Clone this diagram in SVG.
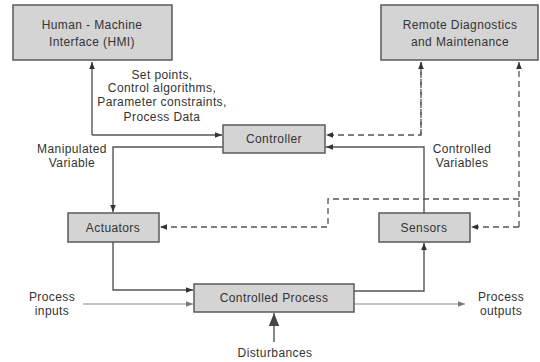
<svg xmlns="http://www.w3.org/2000/svg" width="540" height="362" viewBox="0 0 540 362">
<defs>
<style>
.box{fill:#d4d4d4;stroke:#5a5a5a;stroke-width:1.5}
.t{font-family:"Liberation Sans",Arial,sans-serif;font-size:12px;letter-spacing:0.4px;fill:#333;text-anchor:middle}
.c{fill:none;stroke:#555;stroke-width:1.4}
.d{fill:none;stroke:#555;stroke-width:1.3;stroke-dasharray:6,4}
.l{fill:none;stroke:#888;stroke-width:1.2}
</style>
<marker id="a" viewBox="0 0 10 10" refX="10" refY="5" markerWidth="7" markerHeight="7" markerUnits="userSpaceOnUse" orient="auto"><path d="M0,1 L10,5 L0,9 Z" fill="#333"/></marker>
<marker id="ag" viewBox="0 0 10 10" refX="10" refY="5" markerWidth="7" markerHeight="7" markerUnits="userSpaceOnUse" orient="auto"><path d="M0,1 L10,5 L0,9 Z" fill="#777"/></marker>
<marker id="ab" viewBox="0 0 10 10" refX="10" refY="5" markerWidth="13" markerHeight="13" markerUnits="userSpaceOnUse" orient="auto"><path d="M0,1 L10,5 L0,9 Z" fill="#444"/></marker>
</defs>
<rect width="540" height="362" fill="#fff"/>
<g id="connectors">
<path class="c" d="M92,135 L92,62" marker-end="url(#a)"/>
<path class="c" d="M92,135 L222,135" marker-end="url(#a)"/>
<path class="c" d="M223,147 L113,147 L113,212" marker-end="url(#a)"/>
<path class="c" d="M424,213 L424,147 L326,147" marker-end="url(#a)"/>
<path class="d" d="M421,62 L421,135 L326,135" marker-end="url(#a)"/>
<path class="d" d="M421,135 L421,62" marker-end="url(#a)"/>
<path class="d" d="M519,227 L519,62" marker-end="url(#a)"/>
<path class="d" d="M519,227 L471,227" marker-end="url(#a)"/>
<path class="d" d="M519,199 L328,199 L328,227 L160,227" marker-end="url(#a)"/>
<path class="c" d="M113,242 L113,290 L193,290" marker-end="url(#a)"/>
<path class="l" d="M83,304 L193,304" marker-end="url(#ag)"/>
<path class="c" d="M354,291 L424,291 L424,243" marker-end="url(#a)"/>
<path class="l" d="M354,304 L465,304" marker-end="url(#ag)"/>
<path class="c" d="M274,342 L274,313" marker-end="url(#ab)"/>
</g>
<g id="hmi"><rect class="box" x="13" y="5" width="159" height="55"/><text class="t" x="92" y="29">Human - Machine</text><text class="t" x="92" y="46">Interface (HMI)</text></g>
<g id="remote"><rect class="box" x="381" y="5" width="157" height="55"/><text class="t" x="460" y="29">Remote Diagnostics</text><text class="t" x="460" y="46">and Maintenance</text></g>
<g id="hmi-label"><text class="t" x="162" y="79">Set points,</text><text class="t" x="162" y="92">Control algorithms,</text><text class="t" x="162" y="106">Parameter constraints,</text><text class="t" x="162" y="121">Process Data</text></g>
<g id="controller"><rect class="box" x="223" y="125" width="102" height="28"/><text class="t" x="274" y="143">Controller</text></g>
<g id="mv-label"><text class="t" x="72" y="153">Manipulated</text><text class="t" x="72" y="167">Variable</text></g>
<g id="cv-label"><text class="t" x="462" y="153">Controlled</text><text class="t" x="462" y="167">Variables</text></g>
<g id="actuators"><rect class="box" x="68" y="213" width="91" height="29"/><text class="t" x="113" y="232">Actuators</text></g>
<g id="sensors"><rect class="box" x="379" y="213" width="91" height="29"/><text class="t" x="424" y="232">Sensors</text></g>
<g id="process"><rect class="box" x="194" y="284" width="160" height="28"/><text class="t" x="274" y="302">Controlled Process</text></g>
<g id="inputs"><text class="t" x="52" y="301">Process</text><text class="t" x="52" y="315">inputs</text></g>
<g id="outputs"><text class="t" x="501" y="301">Process</text><text class="t" x="501" y="315">outputs</text></g>
<g id="disturbances"><text class="t" x="275" y="357">Disturbances</text></g>
</svg>
